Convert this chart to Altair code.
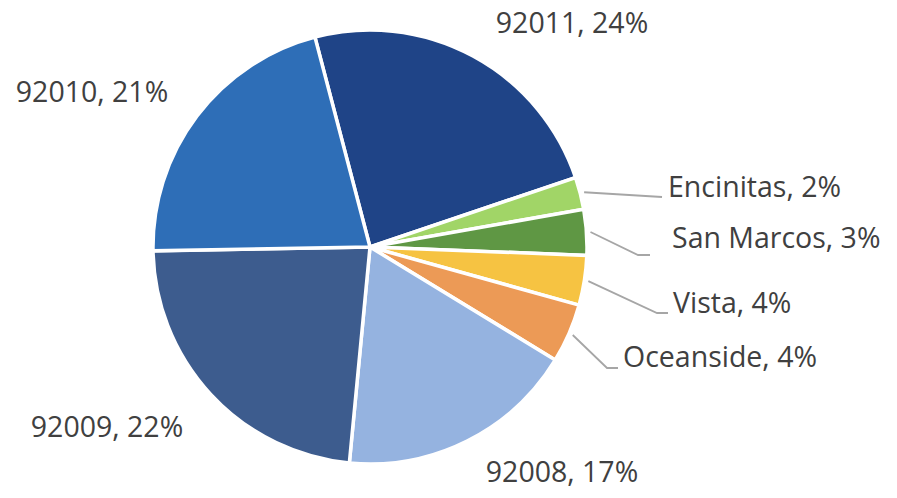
import math
import altair as alt
import pandas as pd

# ---------------- data ----------------
categories = ["92011", "Encinitas", "San Marcos", "Vista", "Oceanside", "92008", "92009", "92010"]
shares = [23.9, 2.4, 3.4, 3.7, 4.4, 17.8, 23.2, 21.2]
pct_labels = ["24%", "2%", "3%", "4%", "4%", "17%", "22%", "21%"]

# ---------------- style / layout ----------------
colors = ["#1F4487", "#A1D567", "#5F9744", "#F6C342", "#EC9A56", "#95B3E0", "#3D5C8E", "#2E6EB7"]
W, H = 881, 482
CX, CY = 362, 239          # pie centre inside the view (pixels)
R = 217                    # pie radius
START_DEG = -14.7          # angle where the first slice starts (clockwise from 12 o'clock)
FONT = "Open Sans"
FONT_SIZE = 28.5
TEXT_COLOR = "#404040"
LINE_COLOR = "#A6A6A6"

# label anchors relative to pie centre (x right, y up); align per label
label_pos = {
    "92011": (202, 214, "center"),
    "92010": (-278, 145, "center"),
    "92009": (-263, -190, "center"),
    "92008": (192, -235, "center"),
    "Encinitas": (298, 50, "left"),
    "San Marcos": (302, -1, "left"),
    "Vista": (303, -66, "left"),
    "Oceanside": (253, -120, "left"),
}
# leader line elbow and end points (relative to centre, y up)
leader_pts = {
    "Encinitas": [(292, 50), (292, 50)],
    "San Marcos": [(268, -8), (280, -8)],
    "Vista": [(287, -66), (298, -66)],
    "Oceanside": [(237, -121), (248, -121)],
}
LEADER_R = 221

# ---------------- build tables ----------------
total = sum(shares)
start = math.radians(START_DEG)
pie_df = pd.DataFrame({
    "cat": categories,
    "share": shares,
    "ord": list(range(len(categories))),
    "cx": [0] * len(categories),
    "cy": [0] * len(categories),
})

mids = {}
acc = 0.0
for c, s in zip(categories, shares):
    a0 = start + acc / total * 2 * math.pi
    acc += s
    a1 = start + acc / total * 2 * math.pi
    mids[c] = (a0 + a1) / 2

lab_rows = []
for c, p in zip(categories, pct_labels):
    x, y, al = label_pos[c]
    lab_rows.append({"cat": c, "label": f"{c}, {p}", "x": x, "y": y, "align": al})
lab_df = pd.DataFrame(lab_rows)

line_rows = []
for c, pts in leader_pts.items():
    m = mids[c]
    line_rows.append({"cat": c, "pt": 0, "x": LEADER_R * math.sin(m), "y": LEADER_R * math.cos(m)})
    for i, (x, y) in enumerate(pts):
        line_rows.append({"cat": c, "pt": i + 1, "x": x, "y": y})
line_df = pd.DataFrame(line_rows)

xs = alt.Scale(domain=[-CX, W - CX], nice=False, zero=False)
ys = alt.Scale(domain=[-(H - CY), CY], nice=False, zero=False)

pie = alt.Chart(pie_df).mark_arc(outerRadius=R, stroke="white", strokeWidth=3.5).encode(
    theta=alt.Theta("share:Q", stack=True,
                    scale=alt.Scale(range=[start, start + 2 * math.pi])),
    color=alt.Color("cat:N", scale=alt.Scale(domain=categories, range=colors), legend=None),
    order=alt.Order("ord:Q"),
    x=alt.X("cx:Q", scale=xs, axis=None),
    y=alt.Y("cy:Q", scale=ys, axis=None),
)

lines = alt.Chart(line_df).mark_line(color=LINE_COLOR, strokeWidth=1.8).encode(
    x=alt.X("x:Q", scale=xs, axis=None),
    y=alt.Y("y:Q", scale=ys, axis=None),
    detail="cat:N",
    order="pt:Q",
)

def text_layer(al):
    return alt.Chart(lab_df).transform_filter(alt.datum.align == al).mark_text(
        align=al, baseline="alphabetic", font=FONT, fontSize=FONT_SIZE, color=TEXT_COLOR
    ).encode(
        x=alt.X("x:Q", scale=xs, axis=None),
        y=alt.Y("y:Q", scale=ys, axis=None),
        text="label:N",
    )

chart = alt.layer(pie, lines, text_layer("center"), text_layer("left")).properties(
    width=W, height=H, padding=0, background="white",
    autosize=alt.AutoSizeParams(type="none"),
).configure_view(stroke=None)

chart.save("out.html", embed_options={"renderer": "svg", "actions": False})
